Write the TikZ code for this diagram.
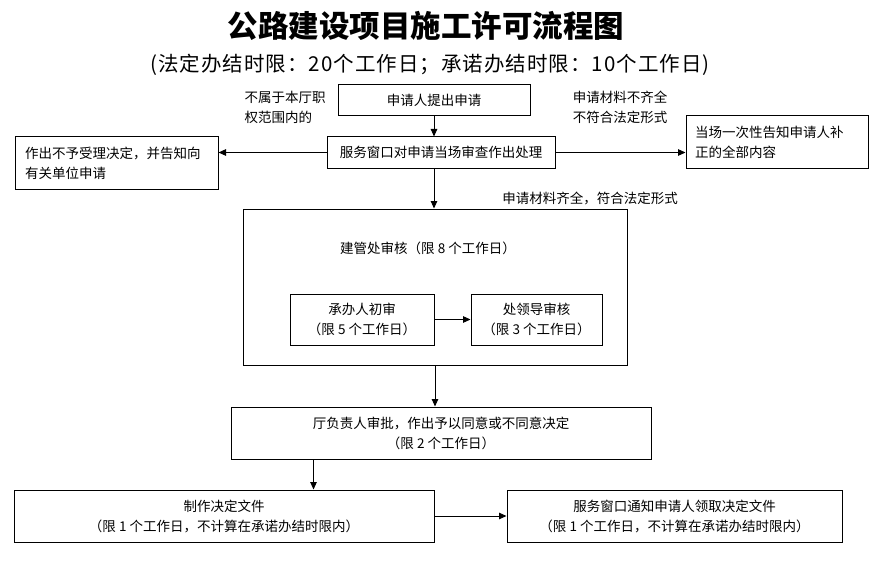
\documentclass[tikz,border=0pt]{standalone}
\usepackage{fontspec}
\setmainfont{Noto Sans CJK SC}
\usetikzlibrary{positioning,arrows.meta}

\tikzset{
  box/.style={draw, line width=1pt, inner sep=0pt, align=center, font=\fontsize{13.5}{20}\selectfont},
  note/.style={inner sep=0pt, align=left, font=\fontsize{13.5}{20}\selectfont},
  arr/.style={-{Triangle[length=7.5pt,width=6.5pt]}, line width=1pt},
}

\begin{document}
\begin{tikzpicture}[x=1pt,y=-1pt]
\useasboundingbox (0,0) rectangle (882,580);
\node (title) at (426,26) {\fontsize{30.5}{34}\selectfont\bfseries 公路建设项目施工许可流程图};
\node (sub) at (430,65) {\fontsize{20.5}{24}\selectfont\addfontfeatures{LetterSpace=5} (法定办结时限：20个工作日；承诺办结时限：10个工作日)};
%----------------------------------
\node [box, minimum width=192pt, minimum height=31pt] (apply) at (434,100) {申请人提出申请};
\node [box, minimum width=228pt, minimum height=31pt] (check) at (441,152.5) {服务窗口对申请当场审查作出处理};
\node [box, minimum width=203pt, minimum height=52pt, text width=183pt, align=left] (reject) at (116.5,163) {作出不予受理决定，并告知向\\有关单位申请};
\node [box, minimum width=182pt, minimum height=52pt, text width=164pt, align=left] (supp) at (777,142) {当场一次性告知申请人补\\正的全部内容};
\node [note] (outside) at (285,107) {不属于本厅职\\权范围内的};
\node [note] (lack) at (620,107) {申请材料不齐全\\不符合法定形式};
\node [note] (ok) at (590,198) {申请材料齐全，符合法定形式};
%----------------------------------
\node [box, minimum width=384pt, minimum height=156pt] (rev) at (435,287) {};
\node [note] (revlbl) at (428,248) {建管处审核（限 8 个工作日）};
\node [box, minimum width=144pt, minimum height=51pt] (first) at (362,319.5) {承办人初审\\（限 5 个工作日）};
\node [box, minimum width=131pt, minimum height=51pt] (lead) at (536.5,319.5) {处领导审核\\（限 3 个工作日）};
%----------------------------------
\node [box, minimum width=420pt, minimum height=52pt] (appr) at (441,433) {厅负责人审批，作出予以同意或不同意决定\\（限 2 个工作日）};
\node [box, minimum width=420pt, minimum height=52pt] (make) at (224,516) {制作决定文件\\（限 1 个工作日，不计算在承诺办结时限内）};
\node [box, minimum width=335pt, minimum height=52pt] (notify) at (674.5,516) {服务窗口通知申请人领取决定文件\\（限 1 个工作日，不计算在承诺办结时限内）};
%----------------------------------
\draw [arr] (apply.south) -- (apply.south |- check.north);
\draw [arr] (check.west) -- (check.west -| reject.east);
\draw [arr] (check.east) -- (check.east -| supp.west);
\draw [arr] (apply.south |- check.south) -- (apply.south |- rev.north);
\draw [arr] (first) -- (lead);
\draw [arr] (rev.south) -- (rev.south |- appr.north);
\draw [arr] ([xshift=83pt]appr.south west) -- ([xshift=83pt]appr.south west |- make.north);
\draw [arr] (make) -- (notify);
\end{tikzpicture}
\end{document}
